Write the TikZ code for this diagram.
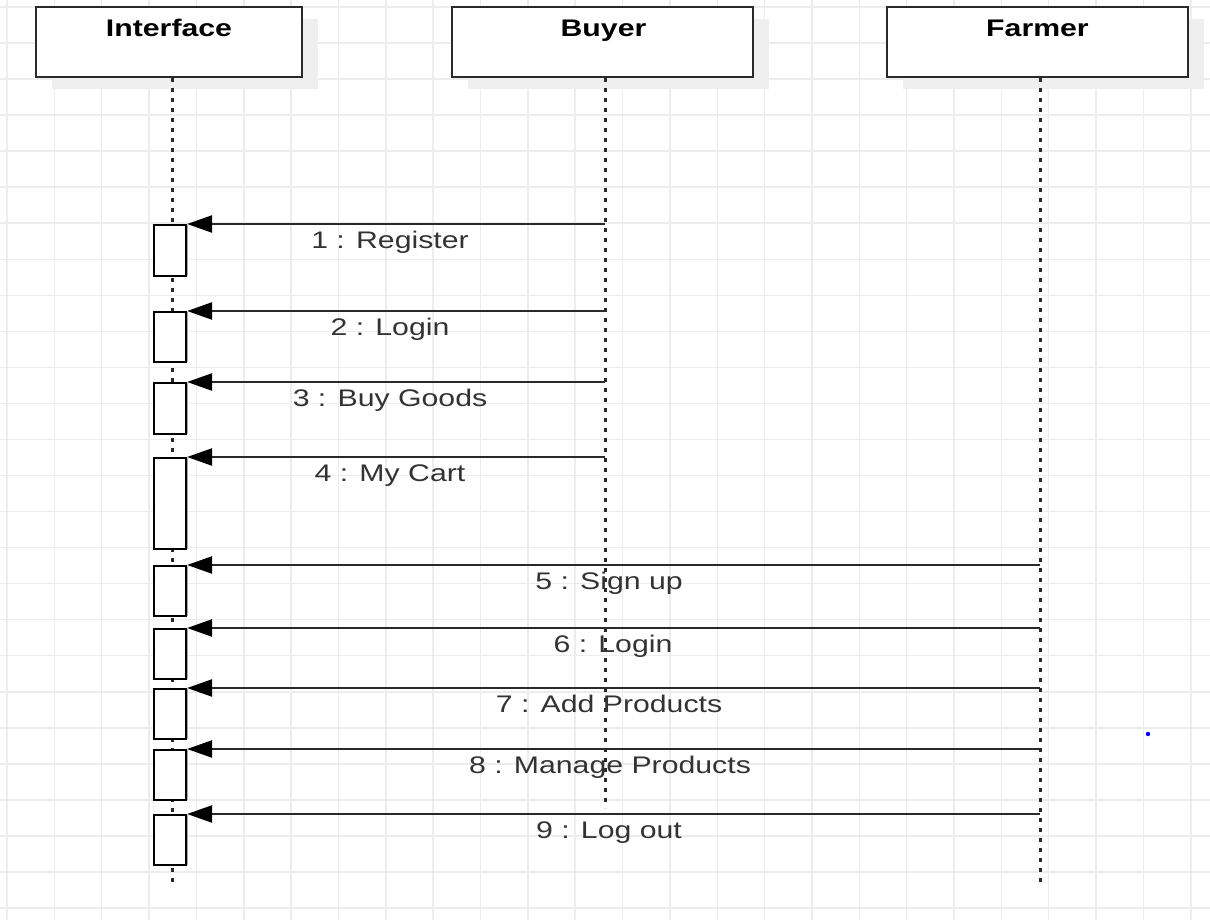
\documentclass[tikz,border=0pt]{standalone}
\usepackage{fontspec}
\setmainfont{Liberation Sans}
\usepackage{graphicx}
\usetikzlibrary{arrows.meta,shadows}
\definecolor{gridc}{HTML}{EDEDED}
\definecolor{ink}{HTML}{2A2A2A}
\definecolor{txt}{HTML}{333333}
\definecolor{shad}{HTML}{EFEFEF}
\begin{document}
\begin{tikzpicture}[x=1pt,y=-1pt,
  gridline/.style={gridc, line width=1.5pt},
  head/.style={draw=ink, line width=2.2pt, fill=white, minimum height=70pt, inner sep=0pt,
    drop shadow={shadow xshift=16pt, shadow yshift=-12pt, fill=shad, opacity=1}},
  title/.style={anchor=base, inner sep=0pt, font=\fontsize{24}{28}\selectfont\bfseries, text=black},
  lifeline/.style={ink, line width=3pt, dash pattern=on 4pt off 6pt},
  act/.style={draw=black, line width=2.2pt, fill=white, minimum width=32pt, inner sep=0pt, anchor=north,
    drop shadow={shadow xshift=2pt, shadow yshift=0pt, fill=gray!70, opacity=1}},
  msg/.style={ink, line width=2.4pt, -{Triangle[length=25pt,width=17pt,fill=black,color=black]}},
  lbl/.style={anchor=base, inner sep=0pt, font=\fontsize{24}{28}\selectfont, text=txt}]
\useasboundingbox (0,0) rectangle (1210,920);
\fill[white] (0,0) rectangle (1210,920);
% grid
\foreach \i in {0,...,25} \draw[gridline] ({7+47.35*\i},0) -- ({7+47.35*\i},920);
\foreach \j in {0,...,25} \draw[gridline] (0,{7+36.04*\j}) -- (1210,{7+36.04*\j});
% heads
\node[head, minimum width=266pt] (hI) at (169,42) {};
\node[head, minimum width=301pt] (hB) at (602.5,42) {};
\node[head, minimum width=301pt] (hF) at (1037.5,42) {};
\node[title] (tI) at (169,37) {\scalebox{1.26}[1]{Interface}};
\node[title] (tB) at (603.5,37) {\scalebox{1.26}[1]{Buyer}};
\node[title] (tF) at (1037.5,37) {\scalebox{1.26}[1]{Farmer}};
% lifelines
\coordinate (lI) at (172,78);
\coordinate (eI) at (172,884);
\coordinate (lB) at (605,78);
\coordinate (eB) at (605,808);
\coordinate (lF) at (1040,78);
\coordinate (eF) at (1040,883);
\draw[lifeline] (lI) -- (eI);
\draw[lifeline] (lB) -- (eB);
\draw[lifeline] (lF) -- (eF);
% activation boxes
\node[act, minimum height=51pt] (a1) at (170,224) {};
\node[act, minimum height=50pt] (a2) at (170,311) {};
\node[act, minimum height=51pt] (a3) at (170,382) {};
\node[act, minimum height=91pt] (a4) at (170,457) {};
\node[act, minimum height=50pt] (a5) at (170,565) {};
\node[act, minimum height=50pt] (a6) at (170,628) {};
\node[act, minimum height=50pt] (a7) at (170,688) {};
\node[act, minimum height=50pt] (a8) at (170,749) {};
\node[act, minimum height=50pt] (a9) at (170,814) {};
% messages
\draw[msg] (lB |- a1.north) -- (a1.north east);
\draw[msg] (lB |- a2.north) -- (a2.north east);
\draw[msg] (lB |- a3.north) -- (a3.north east);
\draw[msg] (lB |- a4.north) -- (a4.north east);
\draw[msg] (lF |- a5.north) -- (a5.north east);
\draw[msg] (lF |- a6.north) -- (a6.north east);
\draw[msg] (lF |- a7.north) -- (a7.north east);
\draw[msg] (lF |- a8.north) -- (a8.north east);
\draw[msg] (lF |- a9.north) -- (a9.north east);
% labels
\node[lbl] (m1) at (390,248) {\scalebox{1.26}[1]{1 : Register}};
\node[lbl] (m2) at (390,335) {\scalebox{1.26}[1]{2 : Login}};
\node[lbl] (m3) at (390,406) {\scalebox{1.26}[1]{3 : Buy Goods}};
\node[lbl] (m4) at (390,481) {\scalebox{1.26}[1]{4 : My Cart}};
\node[lbl] (m5) at (609,589) {\scalebox{1.26}[1]{5 : Sign up}};
\node[lbl] (m6) at (613,652) {\scalebox{1.26}[1]{6 : Login}};
\node[lbl] (m7) at (609,712) {\scalebox{1.26}[1]{7 : Add Products}};
\node[lbl] (m8) at (610,773) {\scalebox{1.26}[1]{8 : Manage Products}};
\node[lbl] (m9) at (609,838) {\scalebox{1.26}[1]{9 : Log out}};
% stray dot
\fill[blue] (1148,734) circle (2.2pt);
\end{tikzpicture}
\end{document}
